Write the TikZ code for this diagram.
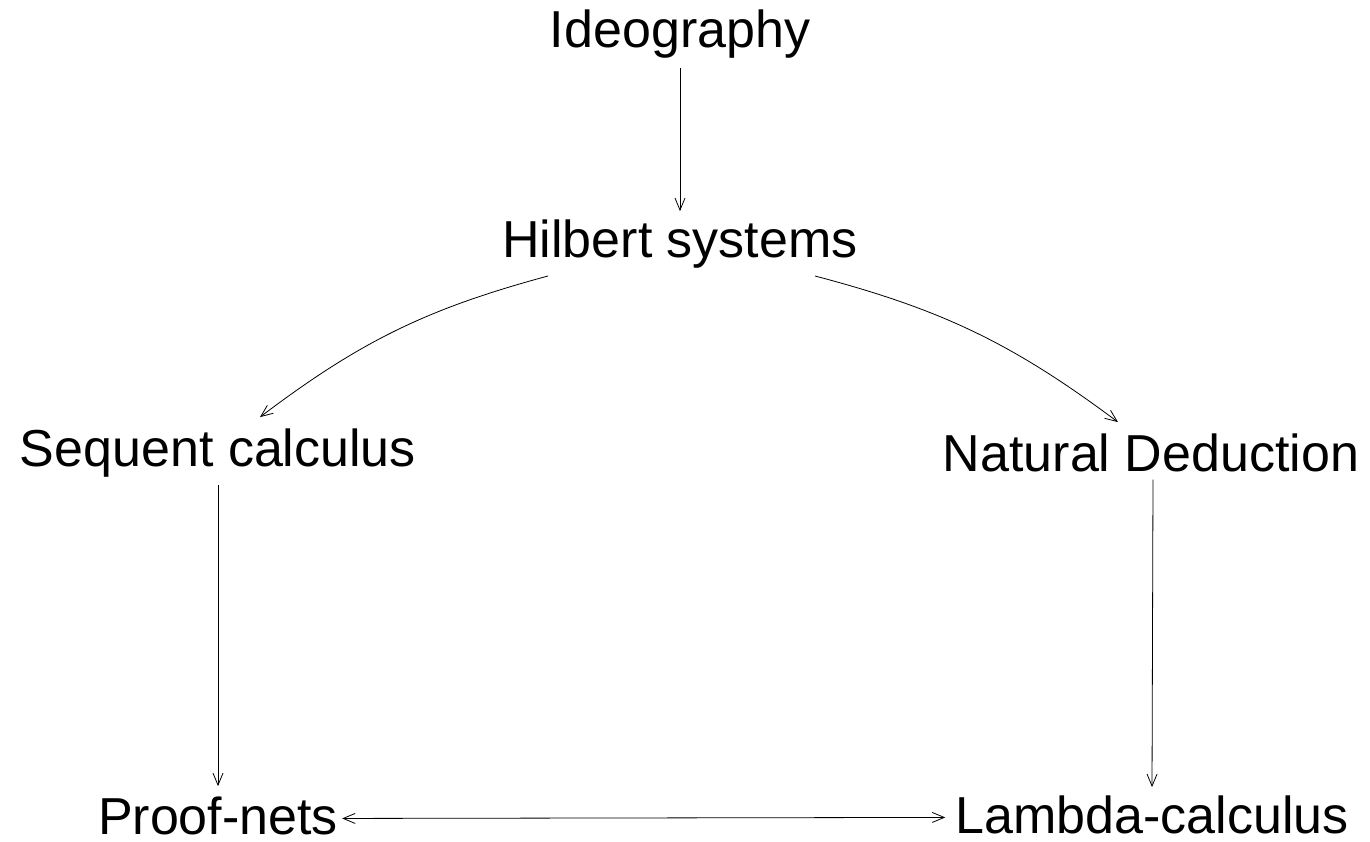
\documentclass[tikz,border=0pt]{standalone}
\usepackage{fontspec}
\setmainfont{Liberation Sans}
\usetikzlibrary{arrows.meta}
\begin{document}
\begin{tikzpicture}[x=1pt,y=-1pt,
  lbl/.style={anchor=base,inner sep=0pt,font=\fontsize{52}{60}\selectfont},
  arr/.style={-{Straight Barb[length=12pt,width=10pt]},line width=0.8pt},
  darr/.style={{Straight Barb[length=12pt,width=10pt]}-{Straight Barb[length=12pt,width=10pt]},line width=0.8pt}]
\useasboundingbox (0,0) rectangle (1370,841);
\node[lbl] (ideo) at (680,47) {Ideography};
\node[lbl] (hil) at (680,257) {Hilbert systems};
\node[lbl] (seq) at (218,466) {Sequent calculus};
\node[lbl] (nat) at (1151,471) {Natural Deduction};
\node[lbl] (pn) at (218,834) {Proof-nets};
\node[lbl] (lam) at (1152,833) {Lambda-calculus};
\draw[arr] ([yshift=-10pt]ideo.south) -- ([yshift=8pt]hil.north);
\draw[arr] ([xshift=-132pt,yshift=-8pt]hil.south) to[bend right=11] ([xshift=42pt,yshift=11pt]seq.north);
\draw[arr] ([xshift=135pt,yshift=-8pt]hil.south) to[bend left=11] ([xshift=-33pt,yshift=11pt]nat.north);
\draw[arr] ([yshift=-8pt]seq.south) -- ([yshift=10pt]pn.north);
\draw[arr] ([xshift=2pt,yshift=-8pt]nat.south) -- ([yshift=8pt]lam.north);
\draw[darr] ([xshift=4pt,yshift=-3pt]pn.east) -- ([xshift=-10pt,yshift=-3pt]lam.west);
\end{tikzpicture}
\end{document}
